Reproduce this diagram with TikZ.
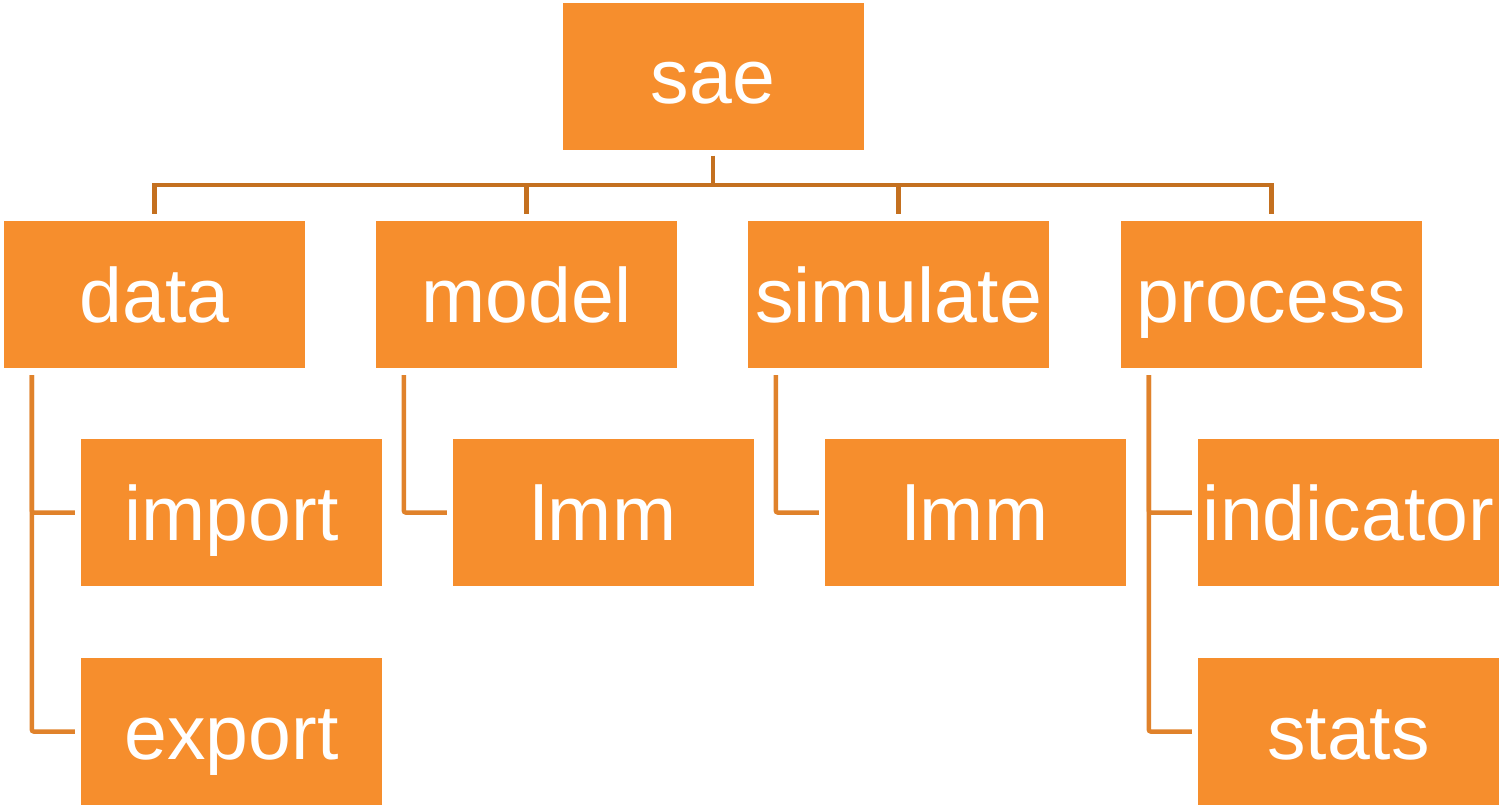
\documentclass[tikz,border=0pt]{standalone}
\usepackage{fontspec}
\setmainfont{Liberation Sans}
\definecolor{boxfill}{HTML}{F68E2D}
\definecolor{barline}{HTML}{C4701F}
\definecolor{sideline}{HTML}{E0822B}
\begin{document}
\begin{tikzpicture}[x=1pt,y=-1pt,
  box/.style={fill=boxfill,draw=none,inner sep=0pt,minimum width=301pt,minimum height=147pt,
    text=white,font=\fontsize{77}{80}\selectfont,text height=55pt,text depth=0pt},
  bar/.style={draw=barline,line width=4.5pt},
  side/.style={draw=sideline,line width=4.5pt,rounded corners=2pt}]
\useasboundingbox (0,0) rectangle (1499,806);
% root and first level
\node[box] (sae) at (713,76) {sae};
\node[box] (data) at (154.5,294.5) {data};
\node[box] (model) at (526.5,294.5) {model};
\node[box] (simulate) at (898.5,294.5) {simulate};
\node[box] (process) at (1271.5,294.5) {process};
% second level
\node[box] (import) at (231.5,512.5) {import};
\node[box] (export) at (231.5,731.5) {export};
\node[box] (lmmA) at (603.5,512.5) {lmm};
\node[box] (lmmB) at (975.5,512.5) {lmm};
\node[box] (indicator) at (1348.5,512.5) {indicator};
\node[box] (stats) at (1348.5,731.5) {stats};
% bracket joining the root to its children
\coordinate (busy) at (713,185);
\draw[bar] ([yshift=-6pt]sae.south) -- (sae.south |- busy);
\draw[bar,line cap=rect] (data.north |- busy) -- (process.north |- busy);
\foreach \c in {data,model,simulate,process}
  \draw[bar] (\c.north |- busy) -- ([yshift=7pt]\c.north);
% side connectors to the second level
\foreach \p/\c in {data/import,model/lmmA,simulate/lmmB,process/indicator}
  \draw[side] ([xshift=28pt,yshift=-7pt]\p.south west) |- ([xshift=-6pt]\c.west);
\foreach \p/\c in {data/export,process/stats}
  \draw[side] ([xshift=28pt,yshift=-7pt]\p.south west) |- ([xshift=-6pt]\c.west);
\end{tikzpicture}
\end{document}
